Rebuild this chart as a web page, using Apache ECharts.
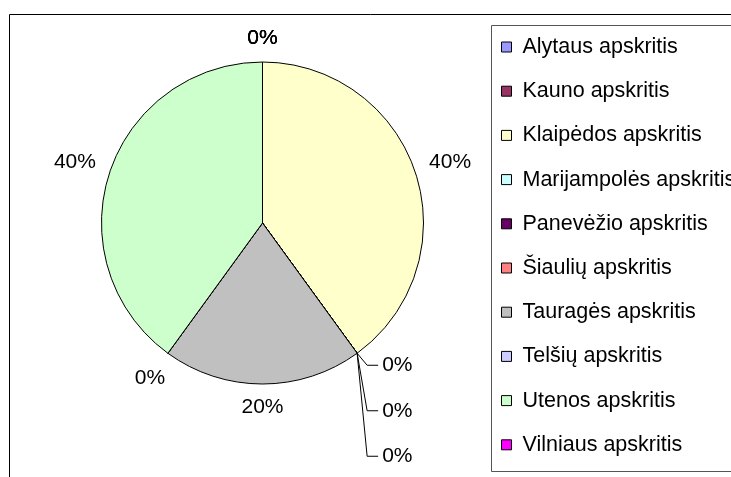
<!DOCTYPE html>
<html>
<head>
<meta charset="utf-8">
<script src="https://cdn.jsdelivr.net/npm/echarts@6/dist/echarts.min.js"></script>
<style>
  html, body { margin: 0; padding: 0; background: #fff; }
  #main { width: 731px; height: 477px; }
</style>
</head>
<body>
<div id="main"></div>
<script>
const counties = [
  "Alytaus apskritis",
  "Kauno apskritis",
  "Klaipėdos apskritis",
  "Marijampolės apskritis",
  "Panevėžio apskritis",
  "Šiaulių apskritis",
  "Tauragės apskritis",
  "Telšių apskritis",
  "Utenos apskritis",
  "Vilniaus apskritis"
];
const shares = [0, 0, 40, 0, 0, 0, 20, 0, 40, 0];
const colors = [
  "#9999FF", "#993366", "#FFFFCC", "#CCFFFF", "#660066",
  "#FF8080", "#C0C0C0", "#CCCCFF", "#CCFFCC", "#FF00FF"
];

// labels pulled out with leader lines (they sit on the same spot)
const leaderIdx = [3, 4, 5];

const CX = 262.5, CY = 223, R = 161, GAP = 13;
const total = shares.reduce(function (a, b) { return a + b; }, 0);

function midAngle(i) {
  let s = 0;
  for (let k = 0; k < i; k++) s += shares[k];
  return (s + shares[i] / 2) / total * 2 * Math.PI;
}

const chart = echarts.init(document.getElementById("main"));

const option = {
  animation: false,
  textStyle: { fontFamily: "Liberation Sans, Arial, sans-serif" },
  graphic: [
    {
      type: "rect",
      shape: { x: 9.5, y: 14.5, width: 800, height: 500 },
      style: { fill: null, stroke: "#000", lineWidth: 1 },
      silent: true
    },
    {
      type: "rect",
      shape: { x: 491.5, y: 25.5, width: 300, height: 446 },
      style: { fill: null, stroke: "#555", lineWidth: 1 },
      silent: true
    }
  ],
  legend: {
    orient: "vertical",
    left: 501,
    top: 36,
    padding: 0,
    itemGap: 22.2,
    itemWidth: 10,
    itemHeight: 10,
    icon: "rect",
    selectedMode: false,
    itemStyle: { borderColor: "#000", borderWidth: 1 },
    textStyle: {
      fontSize: 21.5,
      color: "#000",
      lineHeight: 22,
      padding: [0, 0, 0, 6],
      fontFamily: "Liberation Sans, Arial, sans-serif"
    },
    data: counties
  },
  series: [
    {
      type: "pie",
      center: [CX, CY],
      radius: R,
      startAngle: 90,
      clockwise: true,
      avoidLabelOverlap: false,
      minShowLabelAngle: 0,
      percentPrecision: 0,
      emphasis: { disabled: true },
      itemStyle: { borderColor: "#000", borderWidth: 1 },
      label: {
        show: true,
        position: "outside",
        formatter: "{d}%",
        fontSize: 21,
        color: "#000",
        fontFamily: "Liberation Sans, Arial, sans-serif"
      },
      labelLine: {
        show: false,
        lineStyle: { color: "#000", width: 1 }
      },
      labelLayout: function (p) {
        const i = p.dataIndex;
        const a = midAngle(i);
        const dx = Math.sin(a), dy = -Math.cos(a);
        const k = leaderIdx.indexOf(i);
        if (k >= 0) {
          const ax = CX + R * dx, ay = CY + R * dy;
          const ty = ay + 12 + k * 45.5;
          return {
            x: ax + 25, y: ty, align: "left", verticalAlign: "middle",
            labelLinePoints: [[ax, ay], [ax + 10, ty], [ax + 21, ty]]
          };
        }
        const hw = p.labelRect.width / 2, hh = p.labelRect.height / 2;
        const d = R + GAP + hw * Math.abs(dx) + hh * Math.abs(dy);
        return { x: CX + dx * d, y: CY + dy * d, align: "center", verticalAlign: "middle" };
      },
      data: counties.map(function (name, i) {
        return {
          name: name,
          value: shares[i],
          itemStyle: { color: colors[i] },
          labelLine: { show: leaderIdx.indexOf(i) >= 0 }
        };
      })
    }
  ]
};

chart.setOption(option);
</script>
</body>
</html>
